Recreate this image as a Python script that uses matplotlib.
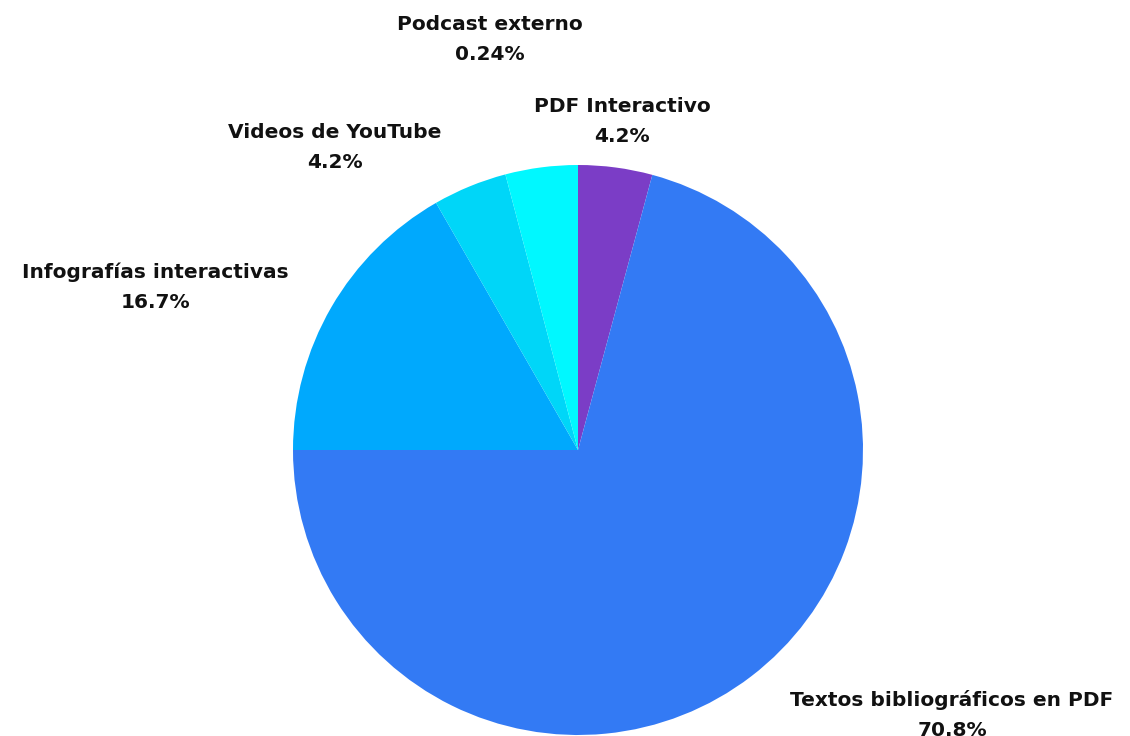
import matplotlib.pyplot as plt

# slices, clockwise from 12 o'clock
categories = ['PDF Interactivo', 'Textos bibliográficos en PDF', 'Infografías interactivas',
              'Videos de YouTube', 'Podcast externo']
values = [4.2, 70.8, 16.7, 4.2, 4.1]
pct_labels = ['4.2%', '70.8%', '16.7%', '4.2%', '0.24%']
colors = ['#7B3DC6', '#337AF4', '#00A9FD', '#00D6F8', '#00F8FF']

# label centres in image pixels (x, y of the name line)
label_pos = [(622, 107), (952, 700), (155, 272), (335, 133), (490, 25)]

W, H = 1130, 736
cx, cy, r = 578, 450, 285


def to_data(px, py):
    return (px - cx) / r, (cy - py) / r


fig = plt.figure(figsize=(W / 100, H / 100), dpi=100)
ax = fig.add_axes([0, 0, 1, 1])
ax.pie(values, colors=colors, startangle=90, counterclock=False, radius=1,
       wedgeprops={'linewidth': 0})
ax.set_xlim(-cx / r, (W - cx) / r)
ax.set_ylim((cy - H) / r, cy / r)
ax.set_aspect('equal')
ax.axis('off')

for name, pct, (px, py) in zip(categories, pct_labels, label_pos):
    x, y = to_data(px, py)
    ax.text(x, y, name, ha='center', va='center', fontsize=14.5, fontweight='bold', color='#111111')
    x2, y2 = to_data(px, py + 30)
    ax.text(x2, y2, pct, ha='center', va='center', fontsize=14.5, fontweight='bold', color='#111111')

fig.savefig('out.png', dpi=100, facecolor='white')
